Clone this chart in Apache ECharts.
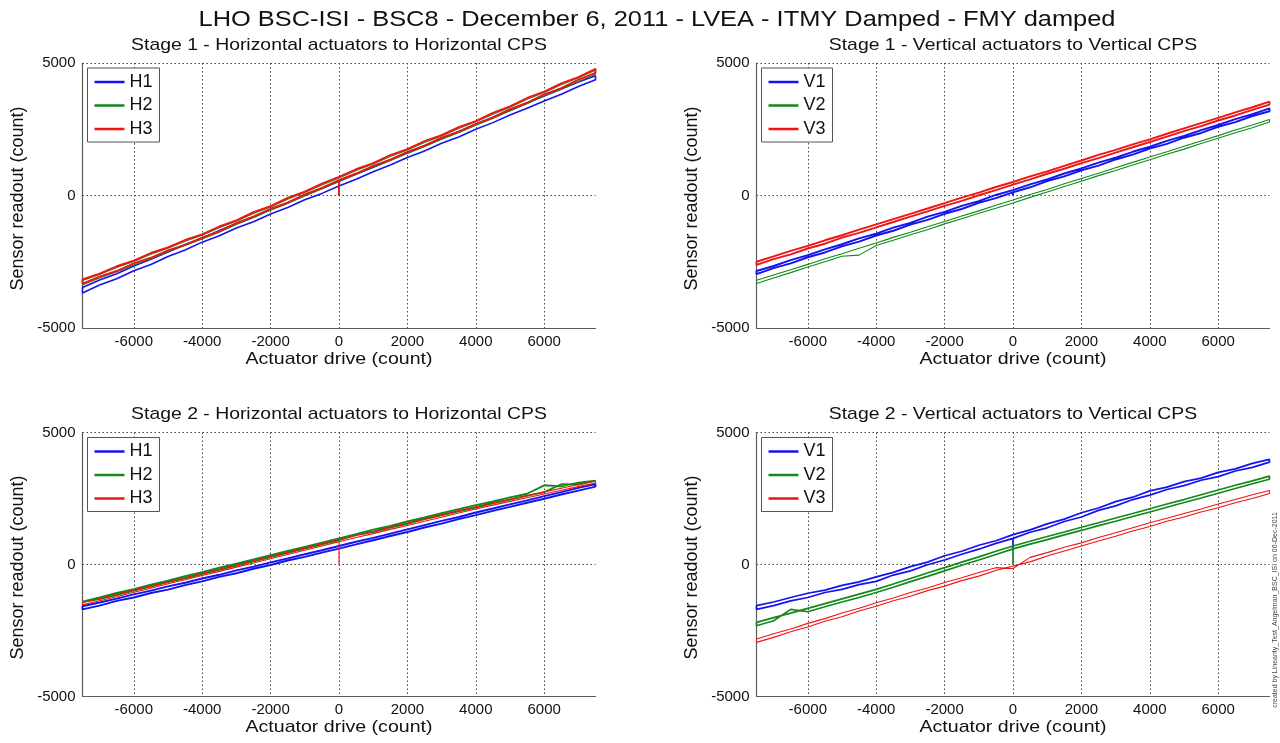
<!DOCTYPE html>
<html>
<head>
<meta charset="utf-8">
<script src="https://cdn.jsdelivr.net/npm/echarts@6/dist/echarts.min.js"></script>
<style>
html,body{margin:0;padding:0;background:#fff;}
#chart{width:1280px;height:743px;}
</style>
</head>
<body>
<div id="chart"></div>
<script>
// ---- Data ----
const X = [-7500,-7000,-6500,-6000,-5500,-5000,-4500,-4000,-3500,-3000,-2500,-2000,-1500,-1000,-500,0,500,1000,1500,2000,2500,3000,3500,4000,4500,5000,5500,6000,6500,7000,7500];
const X_TICKS = [-6000,-4000,-2000,0,2000,4000,6000];

// Stage 1 horizontal
const S1H_H1_up   = [-3680,-3380,-3140,-2840,-2600,-2300,-2060,-1760,-1520,-1230,-990,-700,-450,-160,80,360,610,900,1150,1430,1680,1970,2210,2500,2750,3040,3290,3570,3820,4110,4370];
const S1H_H1_down = [-3470,-3190,-2950,-2660,-2410,-2130,-1850,-1610,-1320,-1060,-800,-520,-270,20,270,540,810,1070,1350,1600,1880,2140,2420,2680,2950,3210,3490,3750,4020,4280,4520];
const S1H_H2_up   = [-3380,-3110,-2880,-2620,-2390,-2120,-1890,-1640,-1390,-1090,-840,-560,-300,-20,250,530,790,1060,1310,1590,1840,2120,2370,2650,2910,3200,3460,3760,4010,4300,4580];
const S1H_H2_down = [-3210,-2980,-2720,-2490,-2220,-1990,-1730,-1500,-1220,-970,-680,-430,-140,110,400,660,940,1190,1470,1720,2000,2250,2530,2780,3070,3330,3630,3890,4180,4440,4730];
const S1H_H3_up   = [-3330,-3060,-2850,-2560,-2350,-2070,-1860,-1590,-1350,-1040,-800,-500,-270,40,290,580,830,1120,1350,1650,1880,2180,2410,2700,2950,3260,3500,3820,4050,4370,4630];
const S1H_H3_down = [-3170,-2950,-2670,-2460,-2170,-1960,-1680,-1470,-1170,-940,-630,-400,-90,150,450,700,990,1220,1520,1750,2050,2280,2580,2810,3120,3360,3680,3920,4230,4470,4780];

// Stage 1 vertical
const S1V_V1_up   = [-2970,-2740,-2560,-2330,-2150,-1920,-1740,-1510,-1330,-1100,-920,-690,-510,-280,-100,120,310,540,720,950,1130,1360,1540,1770,1950,2180,2360,2590,2770,3000,3180];
const S1V_V1_down = [-2850,-2660,-2440,-2250,-2030,-1840,-1620,-1440,-1210,-1030,-800,-620,-390,-210,20,200,420,610,830,1020,1240,1430,1650,1840,2060,2250,2470,2660,2880,3070,3290];
const S1V_V2_up   = [-3320,-3110,-2910,-2700,-2500,-2290,-2250,-1890,-1690,-1480,-1290,-1070,-880,-670,-480,-280,-70,130,340,540,750,940,1150,1350,1560,1750,1960,2160,2370,2560,2770];
const S1V_V2_down = [-3200,-3000,-2800,-2600,-2390,-2200,-1990,-1790,-1580,-1390,-1180,-980,-770,-580,-370,-170,40,230,440,640,840,1050,1250,1450,1650,1860,2060,2260,2470,2660,2870];
const S1V_V3_up   = [-2620,-2400,-2220,-2000,-1820,-1590,-1410,-1200,-1000,-800,-600,-390,-200,10,200,410,610,820,1010,1220,1410,1620,1820,2020,2220,2430,2620,2830,3020,3230,3430];
const S1V_V3_down = [-2500,-2300,-2090,-1900,-1690,-1500,-1290,-1090,-890,-690,-490,-290,-80,110,320,510,720,910,1120,1320,1530,1720,1930,2120,2330,2530,2730,2930,3140,3330,3540];

// Stage 2 horizontal
const S2H_H1_up   = [-1700,-1560,-1380,-1250,-1080,-950,-780,-640,-470,-330,-160,-20,150,290,450,600,760,920,1080,1230,1400,1550,1720,1870,2030,2180,2340,2490,2650,2800,2950];
const S2H_H1_down = [-1580,-1440,-1290,-1130,-990,-830,-690,-530,-390,-220,-80,80,230,390,540,700,860,1010,1170,1330,1490,1650,1800,1970,2120,2280,2430,2590,2740,2900,3050];
const S2H_H2_up   = [-1470,-1310,-1160,-990,-840,-670,-520,-360,-200,-40,120,280,440,600,760,920,1120,1230,1400,1540,1720,1860,2010,2160,2320,2460,2600,2740,3040,3030,3170];
const S2H_H2_down = [-1410,-1250,-1080,-930,-760,-610,-440,-290,-120,30,190,350,510,670,830,990,1150,1320,1460,1630,1780,1940,2100,2250,2390,2540,2680,3000,2960,3100,3240];
const S2H_H3_up   = [-1530,-1370,-1220,-1050,-900,-730,-580,-420,-260,-100,60,220,380,540,700,860,1020,1170,1330,1480,1640,1790,1950,2100,2250,2390,2530,2670,2810,2950,3090];
const S2H_H3_down = [-1450,-1290,-1130,-970,-810,-660,-500,-340,-180,-20,140,300,460,620,780,940,1100,1250,1410,1570,1720,1880,2040,2190,2330,2470,2610,2750,2890,3030,3170];

// Stage 2 vertical
const S2V_V1_up   = [-1700,-1560,-1380,-1250,-1060,-940,-760,-640,-400,-240,-10,170,390,580,800,990,1220,1390,1630,1800,2050,2220,2460,2630,2840,2990,3190,3330,3540,3680,3880];
const S2V_V1_down = [-1560,-1420,-1250,-1090,-970,-790,-660,-470,-300,-80,90,330,500,730,900,1130,1310,1540,1720,1960,2140,2380,2550,2790,2930,3140,3270,3490,3620,3830,3980];
const S2V_V2_up   = [-2320,-2130,-1700,-1790,-1600,-1420,-1250,-1060,-860,-650,-450,-240,-30,170,380,590,770,940,1120,1290,1470,1640,1820,1990,2170,2350,2520,2700,2880,3060,3230];
const S2V_V2_down = [-2190,-2010,-1840,-1660,-1480,-1300,-1120,-940,-740,-530,-320,-120,90,290,500,700,880,1060,1230,1410,1580,1760,1930,2110,2290,2460,2640,2820,3000,3170,3350];
const S2V_V3_up   = [-2950,-2760,-2550,-2370,-2150,-1980,-1760,-1580,-1370,-1200,-990,-820,-610,-440,-230,-60,100,320,510,700,890,1070,1270,1440,1640,1800,1990,2150,2340,2500,2690];
const S2V_V3_down = [-2820,-2620,-2440,-2230,-2050,-1840,-1660,-1450,-1270,-1060,-890,-680,-500,-300,-120,-150,270,450,650,820,1020,1200,1390,1580,1750,1930,2100,2290,2460,2640,2800];

// initial readout before the drive sweep
const START = { S1H_H3: 0, S1V_V1: 0, S2H_H3: 0, S2V_V1: 600, S2V_V2: 0 };

const TITLE = 'LHO BSC-ISI - BSC8 - December 6, 2011 - LVEA - ITMY Damped - FMY damped';
const SUBTITLES = ['Stage 1 - Horizontal actuators to Horizontal CPS','Stage 1 - Vertical actuators to Vertical CPS','Stage 2 - Horizontal actuators to Horizontal CPS','Stage 2 - Vertical actuators to Vertical CPS'];
const X_NAME = 'Actuator drive (count)';
const Y_NAME = 'Sensor readout (count)';
const WATERMARK = 'created by Linearity_Test_Angelman_BSC_ISI on 06-Dec-2011';

// ---- Build ----
function loopData(up, down, start) {
  const pts = [];
  if (start !== undefined) pts.push([0, start]);
  const i0 = X.indexOf(0);
  for (let i = i0; i < X.length; i++) pts.push([X[i], up[i]]);
  for (let i = X.length - 1; i >= 0; i--) pts.push([X[i], down[i]]);
  for (let i = 0; i <= i0; i++) pts.push([X[i], up[i]]);
  return pts;
}

const BLUE = '#1414f0', GREEN = '#12891a', RED = '#f01414';
const FONT = '"Liberation Sans", Arial, sans-serif';

const grids = [
  {left: 82.5, top: 63, width: 513, height: 265},
  {left: 756.5, top: 63, width: 513, height: 265},
  {left: 82.5, top: 432.5, width: 513, height: 264},
  {left: 756.5, top: 432.5, width: 513, height: 264}
];

const panels = [
  {key:'S1H', names:['H1','H2','H3'], data:[[S1H_H1_up,S1H_H1_down],[S1H_H2_up,S1H_H2_down],[S1H_H3_up,S1H_H3_down]], widths:[1.6,1.1,1.9]},
  {key:'S1V', names:['V1','V2','V3'], data:[[S1V_V1_up,S1V_V1_down],[S1V_V2_up,S1V_V2_down],[S1V_V3_up,S1V_V3_down]], widths:[1.9,1.1,1.9]},
  {key:'S2H', names:['H1','H2','H3'], data:[[S2H_H1_up,S2H_H1_down],[S2H_H2_up,S2H_H2_down],[S2H_H3_up,S2H_H3_down]], widths:[1.9,1.9,1.1]},
  {key:'S2V', names:['V1','V2','V3'], data:[[S2V_V1_up,S2V_V1_down],[S2V_V2_up,S2V_V2_down],[S2V_V3_up,S2V_V3_down]], widths:[1.7,1.7,1.1]}
];
const COLORS = [BLUE, GREEN, RED];

const xAxes = [], yAxes = [], series = [], legends = [], graphics = [];
const plain = v => String(v);

panels.forEach((p, gi) => {
  const g = grids[gi];
  xAxes.push({
    type: 'value', gridIndex: gi, min: -7500, max: 7500,
    axisLine: {show: true, onZero: false, lineStyle: {color: '#5a5a5a', width: 1.2}},
    axisTick: {show: false, customValues: X_TICKS},
    axisLabel: {customValues: X_TICKS, formatter: plain, fontSize: 15, color: '#111', margin: 6, fontFamily: FONT},
    splitLine: {show: true, lineStyle: {type: [1.5, 2.5], color: '#444', width: 1}}
  });
  yAxes.push({
    type: 'value', gridIndex: gi, min: -5000, max: 5000, interval: 5000,
    axisLine: {show: true, onZero: false, lineStyle: {color: '#5a5a5a', width: 1.2}},
    axisTick: {show: false},
    axisLabel: {formatter: plain, fontSize: 15, color: '#111', margin: 7, fontFamily: FONT},
    splitLine: {show: true, lineStyle: {type: [1.5, 2.5], color: '#444', width: 1}}
  });
  const legendData = [];
  p.names.forEach((n, si) => {
    const sname = p.key + ' ' + n;
    legendData.push({name: sname, icon: 'rect', itemStyle: {color: COLORS[si]}});
    series.push({
      type: 'line', name: sname, xAxisIndex: gi, yAxisIndex: gi,
      data: loopData(p.data[si][0], p.data[si][1], START[p.key + '_' + n]),
      symbol: 'none', showSymbol: false, smooth: false,
      lineStyle: {color: COLORS[si], width: p.widths[si]},
      itemStyle: {color: COLORS[si]},
      z: 2 + si
    });
  });
  legends.push({
    data: legendData, orient: 'vertical', left: g.left + 5, top: g.top + 5,
    itemWidth: 30, itemHeight: 2.5, itemGap: 5.5,
    padding: [5, 7, 4, 7],
    borderColor: '#555', borderWidth: 1, backgroundColor: '#fff',
    formatter: name => name.split(' ')[1],
    textStyle: {fontSize: 18, color: '#111', fontFamily: FONT, lineHeight: 18},
    selectedMode: false
  });
  graphics.push({type: 'text', x: g.left + g.width / 2, y: g.top - 18, scaleX: 1.14,
    style: {text: SUBTITLES[gi], font: '17px ' + FONT, fill: '#111', align: 'center', verticalAlign: 'middle'}});
  graphics.push({type: 'text', x: g.left + g.width / 2, y: g.top + g.height + 31, scaleX: 1.15,
    style: {text: X_NAME, font: '17px ' + FONT, fill: '#111', align: 'center', verticalAlign: 'middle'}});
  graphics.push({type: 'text', x: g.left - 64, y: g.top + g.height / 2 + 3, rotation: Math.PI / 2,
    style: {text: Y_NAME, font: '18px ' + FONT, fill: '#111', align: 'center', verticalAlign: 'middle'}});
});

graphics.push({type: 'text', x: 657, y: 20, scaleX: 1.155,
  style: {text: TITLE, font: '22px ' + FONT, fill: '#111', align: 'center', verticalAlign: 'middle'}});
graphics.push({type: 'text', x: 1275, y: 610, rotation: Math.PI / 2,
  style: {text: WATERMARK, font: '7px ' + FONT, fill: '#444', align: 'center', verticalAlign: 'middle'}});

const chart = echarts.init(document.getElementById('chart'), null, {renderer: 'canvas'});
chart.setOption({
  animation: false,
  backgroundColor: '#fff',
  grid: grids.map(g => Object.assign({containLabel: false}, g)),
  xAxis: xAxes,
  yAxis: yAxes,
  legend: legends,
  series: series,
  graphic: graphics
});
</script>
</body>
</html>
